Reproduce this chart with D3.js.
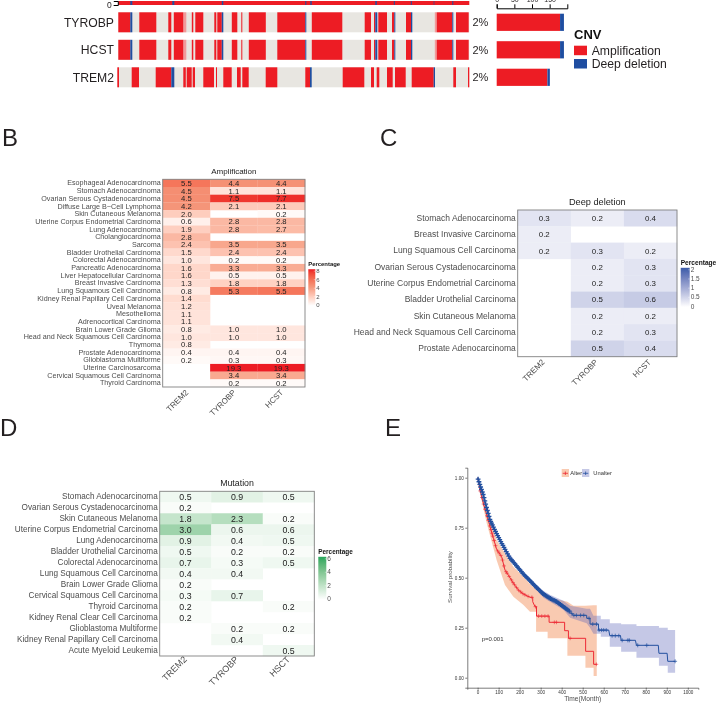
<!DOCTYPE html>
<html>
<head>
<meta charset="utf-8">
<script src="https://cdn.jsdelivr.net/npm/d3@7"></script>
<style>
  body { margin: 0; background: #fff; }
  svg { display: block; filter: blur(0.3px); }
  text { font-family: "Liberation Sans", Arial, sans-serif; }
</style>
</head>
<body>
<div id="wrapper"></div>
<script>
// A: oncoprint, [first sample, last sample] runs
const genes = ["TYROBP", "HCST", "TREM2"];
const genePct = ["2%", "2%", "2%"];
const topAmp = [[0, 351]];
const topDel = [[12, 14], [54, 56], [103.5, 105], [187, 188], [192, 193.4], [257, 258.5], [275.5, 276.5], [292.5, 293.5], [315.4, 316], [334, 335]];
const tyrobpAmp = [[0, 12], [21, 38], [50, 53], [55.5, 65], [73.5, 75], [77, 85], [96, 98], [99, 103.5], [113.5, 119], [123, 124], [130.5, 147.5], [159, 187], [193.5, 224], [246.4, 252.7], [255.7, 257], [260, 268.7], [273.7, 276], [287.7, 292.7], [318.4, 334], [337.7, 350.4]];
const tyrobpDel = [[12, 14], [103.5, 105], [187, 188], [257, 259], [276, 277], [292.7, 294], [334, 335]];
const tyrobpPale = [[65, 68], [316.5, 318.4]];
const trem2Amp = [[-1, 0.7], [13.4, 20.7], [37.4, 53], [65, 67.5], [68.4, 73.4], [74.4, 76.7], [85, 95.7], [97.7, 98.7], [105, 113.4], [118.7, 122.4], [124, 130.4], [147.4, 159], [187, 191.7], [224.4, 246], [252.7, 255.7], [258.4, 261], [268.7, 274.4], [276.7, 287.4], [293.4, 315.4], [335, 337.7], [349.7, 351]];
const trem2Del = [[53, 56], [191.7, 193.4], [315.4, 316.7]];
const barTicks = [0, 50, 100, 150];
const barAmp = [180, 180, 144];
const barDel = [11, 11, 7];

// B: amplification
const ampCancers = ["Esophageal Adenocarcinoma", "Stomach Adenocarcinoma", "Ovarian Serous Cystadenocarcinoma", "Diffuse Large B\u2212Cell Lymphoma", "Skin Cutaneous Melanoma", "Uterine Corpus Endometrial Carcinoma", "Lung Adenocarcinoma", "Cholangiocarcinoma", "Sarcoma", "Bladder Urothelial Carcinoma", "Colorectal Adenocarcinoma", "Pancreatic Adenocarcinoma", "Liver Hepatocellular Carcinoma", "Breast Invasive Carcinoma", "Lung Squamous Cell Carcinoma", "Kidney Renal Papillary Cell Carcinoma", "Uveal Melanoma", "Mesothelioma", "Adrenocortical Carcinoma", "Brain Lower Grade Glioma", "Head and Neck Squamous Cell Carcinoma", "Thymoma", "Prostate Adenocarcinoma", "Glioblastoma Multiforme", "Uterine Carcinosarcoma", "Cervical Squamous Cell Carcinoma", "Thyroid Carcinoma"];
const ampTrem2 = [5.5, 4.5, 4.5, 4.2, 2.0, 0.6, 1.9, 2.8, 2.4, 1.5, 1.0, 1.6, 1.6, 1.3, 0.8, 1.4, 1.2, 1.1, 1.1, 0.8, 1.0, 0.8, 0.4, 0.2, null, null, null];
const ampTyrobp = [4.4, 1.1, 7.5, 2.1, null, 2.8, 2.8, null, 3.5, 2.4, 0.2, 3.3, 0.5, 1.8, 5.3, null, null, null, null, 1.0, 1.0, null, 0.4, 0.3, 19.3, 3.4, 0.2];
const ampHcst = [4.4, 1.1, 7.7, 2.1, 0.2, 2.8, 2.7, null, 3.5, 2.4, 0.2, 3.3, 0.5, 1.8, 5.5, null, null, null, null, 1.0, 1.0, null, 0.4, 0.3, 19.3, 3.4, 0.2];
const ampTicks = [0, 2, 4, 6, 8];

// C: deep deletion
const delCancers = ["Stomach Adenocarcinoma", "Breast Invasive Carcinoma", "Lung Squamous Cell Carcinoma", "Ovarian Serous Cystadenocarcinoma", "Uterine Corpus Endometrial Carcinoma", "Bladder Urothelial Carcinoma", "Skin Cutaneous Melanoma", "Head and Neck Squamous Cell Carcinoma", "Prostate Adenocarcinoma"];
const delTrem2 = [0.3, 0.2, 0.2, null, null, null, null, null, null];
const delTyrobp = [0.2, null, 0.3, 0.2, 0.2, 0.5, 0.2, 0.2, 0.5];
const delHcst = [0.4, null, 0.2, 0.3, 0.3, 0.6, 0.2, 0.3, 0.4];
const delTicks = [0, 0.5, 1, 1.5, 2];

// D: mutation
const mutCancers = ["Stomach Adenocarcinoma", "Ovarian Serous Cystadenocarcinoma", "Skin Cutaneous Melanoma", "Uterine Corpus Endometrial Carcinoma", "Lung Adenocarcinoma", "Bladder Urothelial Carcinoma", "Colorectal Adenocarcinoma", "Lung Squamous Cell Carcinoma", "Brain Lower Grade Glioma", "Cervical Squamous Cell Carcinoma", "Thyroid Carcinoma", "Kidney Renal Clear Cell Carcinoma", "Glioblastoma Multiforme", "Kidney Renal Papillary Cell Carcinoma", "Acute Myeloid Leukemia"];
const mutTrem2 = [0.5, 0.2, 1.8, 3.0, 0.9, 0.5, 0.7, 0.4, 0.2, 0.3, 0.2, 0.2, null, null, null];
const mutTyrobp = [0.9, null, 2.3, 0.6, 0.4, 0.2, 0.3, 0.4, null, 0.7, null, null, 0.2, 0.4, null];
const mutHcst = [0.5, null, 0.2, 0.6, 0.5, 0.2, 0.5, null, null, null, 0.2, null, 0.2, null, 0.5];
const mutTicks = [0, 2, 4, 6];

// E: survival, traced vertices (a repeated time is a drop)
const alterTime = [0, 11, 27, 43, 59, 75, 90, 114, 130, 146, 170, 194, 218, 249, 262, 262, 273, 280, 280, 340, 340, 414, 414, 432, 432, 514, 514, 552, 552, 567];
const alterSurv = [1, 0.938, 0.872, 0.813, 0.755, 0.697, 0.642, 0.605, 0.538, 0.513, 0.472, 0.438, 0.418, 0.402, 0.402, 0.38, 0.355, 0.355, 0.308, 0.308, 0.277, 0.277, 0.235, 0.235, 0.197, 0.197, 0.132, 0.132, 0.067, 0.067];
const alterCiTime = [0, 11, 43, 75, 90, 130, 170, 218, 249, 278, 278, 333, 333, 376, 427, 427, 456, 513, 513, 552, 552, 567];
const alterCiUp = [1, 0.955, 0.84, 0.747, 0.688, 0.622, 0.555, 0.505, 0.468, 0.442, 0.442, 0.405, 0.405, 0.392, 0.38, 0.38, 0.36, 0.36, 0.36, 0.362, 0.362, 0.362];
const alterCiLo = [1, 0.922, 0.772, 0.647, 0.588, 0.463, 0.405, 0.363, 0.33, 0.33, 0.23, 0.23, 0.197, 0.197, 0.197, 0.11, 0.11, 0.11, 0.05, 0.05, 0.008, 0.008];
const alterCensor = [12, 20, 28, 35, 44, 50, 58, 63, 68, 72, 78, 85, 95, 102, 110, 118, 125, 135, 140, 150, 160, 168, 175, 185, 195, 205, 215, 225, 240, 258, 275, 290, 305, 320, 335, 365, 375, 440, 565];
const unalterTime = [0, 11, 27, 43, 59, 83, 106, 130, 154, 186, 218, 249, 281, 313, 344, 376, 408, 440, 456, 519, 519, 535, 535, 575, 575, 624, 629, 680, 683, 751, 756, 860, 863, 902, 905, 940];
const unalterSurv = [1, 0.963, 0.913, 0.847, 0.788, 0.735, 0.688, 0.642, 0.597, 0.558, 0.518, 0.485, 0.45, 0.418, 0.397, 0.38, 0.355, 0.33, 0.312, 0.312, 0.297, 0.297, 0.268, 0.268, 0.238, 0.238, 0.21, 0.21, 0.187, 0.187, 0.162, 0.162, 0.122, 0.122, 0.082, 0.082];
const unalterCiTime = [0, 59, 130, 218, 281, 313, 344, 408, 440, 519, 535, 551, 586, 586, 629, 629, 683, 683, 756, 756, 863, 863, 905, 905, 940];
const unalterCiUp = [1, 0.795, 0.65, 0.527, 0.462, 0.435, 0.415, 0.385, 0.36, 0.345, 0.345, 0.31, 0.31, 0.292, 0.292, 0.272, 0.272, 0.267, 0.267, 0.258, 0.258, 0.25, 0.25, 0.238, 0.238];
const unalterCiLo = [1, 0.78, 0.635, 0.51, 0.44, 0.4, 0.38, 0.34, 0.3, 0.272, 0.25, 0.22, 0.22, 0.205, 0.205, 0.155, 0.155, 0.13, 0.13, 0.1, 0.1, 0.06, 0.06, 0.025, 0.025];
const unalterCensor = [2, 6, 10, 14, 18, 22, 26, 30, 34, 38, 42, 46, 50, 54, 58, 62, 66, 70, 75, 80, 85, 90, 95, 100, 105, 110, 115, 120, 125, 130, 136, 142, 148, 154, 160, 166, 172, 178, 184, 190, 196, 202, 208, 214, 220, 226, 232, 238, 244, 250, 256, 262, 268, 274, 280, 286, 292, 298, 304, 310, 316, 322, 328, 334, 340, 346, 352, 358, 364, 370, 376, 382, 388, 394, 400, 406, 412, 418, 424, 430, 436];
const unalterCensorTail = [448, 458, 470, 490, 505, 530, 548, 566, 578, 590, 600, 612, 640, 655, 672, 688, 715, 722, 762, 805, 940];

const red = "#ed1c24", blue = "#1f4ea1";

const svg = d3.select("#wrapper")
  .append("svg")
    .attr("width", 719)
    .attr("height", 703);

// panel letters
[["B", 2, 146], ["C", 380, 146], ["D", 0, 436], ["E", 385, 436]].forEach(function(d) {
  svg.append("text").attr("x", d[1]).attr("y", d[2])
    .attr("font-size", 24).attr("fill", "#231f20").text(d[0]);
});

// ---- A: oncoprint ----
const sx = d3.scaleLinear().domain([0, 351]).range([118.3, 469.3]);
const gy = d3.scaleBand().domain(genes).range([12.3, 87.3]).paddingInner(0.2727);

function runs(list, y, h, color) {
  svg.append("g").selectAll("rect").data(list).join("rect")
    .attr("x", function(d) { return sx(d[0]); })
    .attr("width", function(d) { return sx(d[1]) - sx(d[0]); })
    .attr("y", y).attr("height", h).attr("fill", color);
}

genes.forEach(function(g, i) {
  const y = gy(g), h = gy.bandwidth();
  runs([[0, 351]], y, h, "#e8e6e1");
  if (g == "TREM2") {
    runs(trem2Amp, y, h, red);
    runs(trem2Del, y, h, blue);
  } else {
    runs(tyrobpPale, y, h, "#f29a9a");
    runs(tyrobpAmp, y, h, red);
    runs(tyrobpDel, y, h, blue);
  }
  svg.append("text").attr("x", 114).attr("y", y + h / 2 + 4.4)
    .attr("text-anchor", "end").attr("font-size", 12.2).attr("fill", "#231f20").text(g);
  svg.append("text").attr("x", 472.5).attr("y", y + h / 2 + 3.8)
    .attr("font-size", 11).attr("fill", "#231f20").text(genePct[i]);
});

// top summary bar
runs(topAmp, 1, 4, red);
runs(topDel, 1, 4, blue);
const topY = d3.scaleLinear().domain([0, 1]).range([5, 1]);
const topAxis = svg.append("g").attr("transform", "translate(117.8,0)")
  .call(d3.axisLeft(topY).tickValues([0]).tickSize(4).tickPadding(2).tickFormat(d3.format("d")));
topAxis.selectAll("text").attr("font-size", 8.5).attr("fill", "#231f20");

// bars on the right
const bx = d3.scaleLinear().domain([0, 150]).range([496.7, 549.5]);
genes.forEach(function(g, i) {
  const y = gy(g) + 1.4, h = gy.bandwidth() - 2.8;
  svg.append("rect").attr("x", bx(0)).attr("y", y).attr("height", h)
    .attr("width", bx(barAmp[i]) - bx(0)).attr("fill", red);
  svg.append("rect").attr("x", bx(barAmp[i])).attr("y", y).attr("height", h)
    .attr("width", bx(barDel[i]) - bx(0)).attr("fill", blue);
});
const barAxis = svg.append("g").attr("transform", "translate(0,8.3)")
  .call(d3.axisTop(bx.copy().domain([0, 200]).range([496.7, 567.3])).tickValues(barTicks).tickSize(4).tickPadding(2.3));
barAxis.selectAll("text").attr("font-size", 7).attr("fill", "#231f20");

// CNV legend
svg.append("text").attr("x", 574).attr("y", 38.5).attr("font-size", 13)
  .attr("font-weight", "bold").attr("fill", "#111").text("CNV");
[["Amplification", red, 45.7], ["Deep deletion", blue, 59]].forEach(function(d) {
  svg.append("rect").attr("x", 574).attr("y", d[2]).attr("width", 13).attr("height", 9.5).attr("fill", d[1]);
  svg.append("text").attr("x", 591.7).attr("y", d[2] + 9).attr("font-size", 12.2)
    .attr("fill", "#231f20").text(d[0]);
});

// ---- heatmaps ----
function heatmap(o) {
  const x = d3.scaleBand().domain(o.cols.map(function(c, i) { return i; })).range([o.left, o.right]);
  const y = d3.scaleBand().domain(o.rows).range([o.top, o.bottom]);
  const color = d3.scaleLinear().domain(o.stops).range(o.colors).interpolate(d3.interpolateLab).clamp(true);

  o.series.forEach(function(vals, c) {
    const col = svg.append("g");
    const cells = o.rows.map(function(r, i) { return {row: r, v: vals[i]}; }).filter(function(d) { return d.v != null; });
    col.selectAll("rect").data(cells).join("rect")
      .attr("x", x(c)).attr("y", function(d) { return y(d.row); })
      .attr("width", x.bandwidth() + 0.2).attr("height", y.bandwidth() + 0.2)
      .attr("fill", function(d) { return color(d.v); });
    col.selectAll("text").data(cells).join("text")
      .attr("x", x(c) + x.bandwidth() / 2)
      .attr("y", function(d) { return y(d.row) + y.bandwidth() / 2 + o.valueSize * 0.36; })
      .attr("text-anchor", "middle").attr("font-size", o.valueSize).attr("fill", "#222")
      .text(function(d) { return d.v.toFixed(1); });
  });

  // frame
  svg.append("rect").attr("x", o.left).attr("y", o.top)
    .attr("width", o.right - o.left).attr("height", o.bottom - o.top)
    .attr("fill", "none").attr("stroke", "#808080").attr("stroke-width", 0.9);

  svg.append("text").attr("x", (o.left + o.right) / 2).attr("y", o.top - 5.5)
    .attr("text-anchor", "middle").attr("font-size", o.titleSize).attr("fill", "#222").text(o.title);

  // row labels
  const yAxis = svg.append("g").attr("transform", "translate(" + o.left + ",0)")
    .call(d3.axisLeft(y).tickSize(0).tickPadding(2));
  yAxis.select(".domain").remove();
  yAxis.selectAll("text").attr("font-size", o.labelSize).attr("fill", "#4d4d4d");

  // column labels
  const xAxis = svg.append("g").attr("transform", "translate(0," + o.bottom + ")")
    .call(d3.axisBottom(x).tickSize(0).tickFormat(function(i) { return o.cols[i]; }));
  xAxis.select(".domain").remove();
  xAxis.selectAll("text")
    .attr("font-size", o.colSize).attr("fill", "#4d4d4d")
    .attr("text-anchor", "end").attr("dy", null).attr("y", 0)
    .attr("transform", "translate(" + o.colShift[0] + "," + o.colShift[1] + ") rotate(-45)");

  // colour legend
  const ly = d3.scaleLinear().domain(d3.extent(o.ticks)).range([o.legBottom, o.legTop]);
  const grad = svg.append("defs").append("linearGradient").attr("id", "grad" + o.title.charAt(0))
    .attr("x1", 0).attr("x2", 0).attr("y1", 1).attr("y2", 0);
  d3.range(0, 1.01, 0.1).forEach(function(t) {
    grad.append("stop").attr("offset", t).attr("stop-color", color(ly.domain()[1] * t));
  });
  const top = o.legTop - 1.5;
  svg.append("rect").attr("x", o.legX).attr("y", top).attr("width", o.legW)
    .attr("height", o.legBottom + 1 - top).attr("fill", "url(#grad" + o.title.charAt(0) + ")");
  svg.append("text").attr("x", o.legX).attr("y", top - 2.8).attr("font-size", o.legTitle)
    .attr("font-weight", "bold").attr("fill", "#111").text("Percentage");
  const lAxis = svg.append("g").attr("transform", "translate(" + (o.legX + o.legW) + ",0)")
    .call(d3.axisRight(ly).tickValues(o.ticks).tickSize(-1.5).tickPadding(1).tickFormat(d3.format("")));
  lAxis.select(".domain").remove();
  lAxis.selectAll("line").attr("stroke", "#fff").attr("stroke-width", 0.4);
  lAxis.selectAll("text").attr("font-size", o.legSize).attr("fill", "#4d4d4d");
}

heatmap({
  title: "Amplification", titleSize: 8,
  rows: ampCancers, cols: ["TREM2", "TYROBP", "HCST"], series: [ampTrem2, ampTyrobp, ampHcst],
  left: 162.7, right: 305, top: 179.3, bottom: 387,
  labelSize: 7.2, valueSize: 7.7, colSize: 8, colShift: [2.5, 6],
  stops: [0, 4, 8], colors: ["#ffffff", "#f59a7e", red],
  ticks: ampTicks, legX: 308.3, legW: 7, legTop: 270.7, legBottom: 304.7, legTitle: 5.9, legSize: 6
});
heatmap({
  title: "Deep deletion", titleSize: 9.2,
  rows: delCancers, cols: ["TREM2", "TYROBP", "HCST"], series: [delTrem2, delTyrobp, delHcst],
  left: 517.7, right: 677, top: 210, bottom: 356.7,
  labelSize: 8.5, valueSize: 7.9, colSize: 8, colShift: [1, 6],
  stops: [0, 2], colors: ["#ffffff", "#3a5ba8"],
  ticks: delTicks, legX: 680.7, legW: 9, legTop: 269.3, legBottom: 306, legTitle: 6.6, legSize: 6.5
});
heatmap({
  title: "Mutation", titleSize: 8.8,
  rows: mutCancers, cols: ["TREM2", "TYROBP", "HSCT"], series: [mutTrem2, mutTyrobp, mutHcst],
  left: 159.7, right: 314.3, top: 491.3, bottom: 656,
  labelSize: 8.2, valueSize: 8.8, colSize: 9, colShift: [2, 4],
  stops: [0, 6], colors: ["#ffffff", "#26a65b"],
  ticks: mutTicks, legX: 318.3, legW: 8, legTop: 558.3, legBottom: 598.7, legTitle: 6.4, legSize: 6.5
});

// ---- E: survival ----
const tx = d3.scaleLinear().domain([0, 1000]).range([477.7, 687.7]);
const py = d3.scaleLinear().domain([0, 1]).range([677.7, 477.7]);

function band(times, up, lo, color, op) {
  svg.append("path").datum(times)
    .attr("fill", color).attr("fill-opacity", op)
    .attr("d", d3.area()
      .x(function(d) { return tx(d); })
      .y0(function(d, i) { return py(lo[i]); })
      .y1(function(d, i) { return py(up[i]); }));
}
function curve(times, surv, color, w) {
  svg.append("path").datum(times)
    .attr("fill", "none").attr("stroke", color).attr("stroke-width", w)
    .attr("d", d3.line()
      .x(function(d) { return tx(d); })
      .y(function(d, i) { return py(surv[i]); }));
}
function marks(times, surv, censor, color, size, w) {
  const at = d3.scaleLinear().domain(times).range(surv);
  svg.append("g").selectAll("path").data(censor).join("path")
    .attr("fill", "none").attr("stroke", color).attr("stroke-width", w)
    .attr("transform", function(d) { return "translate(" + tx(d) + "," + py(at(d)) + ")"; })
    .attr("d", "M-" + size + ",0H" + size + "M0,-" + size + "V" + size);
}
band(alterCiTime, alterCiUp, alterCiLo, "#f07a3c", 0.4);
band(unalterCiTime, unalterCiUp, unalterCiLo, "#5a62b8", 0.35);
curve(alterTime, alterSurv, "#ed2a35", 1);
marks(alterTime, alterSurv, alterCensor, "#ed2a35", 1.9, 0.6);
curve(unalterTime, unalterSurv, "#23509f", 1);
marks(unalterTime, unalterSurv, unalterCensor, "#23509f", 2.4, 1.3);
marks(unalterTime, unalterSurv, unalterCensorTail, "#23509f", 2, 0.7);

const ex = svg.append("g").attr("transform", "translate(0,687.7)")
  .call(d3.axisBottom(tx.copy().domain([-49, 1050]).range([467.3, 698.3])).tickValues(d3.range(0, 1001, 100)).tickSize(2).tickPadding(1.5).tickFormat(d3.format("d")));
const ey = svg.append("g").attr("transform", "translate(467.3,0)")
  .call(d3.axisLeft(py.copy().domain([-0.05, 1.05]).range([687.7, 467.7])).tickValues([0, 0.25, 0.5, 0.75, 1]).tickSize(2).tickPadding(1.5).tickFormat(d3.format(".2f")));
[ex, ey].forEach(function(a) {
  a.selectAll("text").attr("font-size", 4.6).attr("fill", "#333");
  a.selectAll("line, path").attr("stroke", "#444").attr("stroke-width", 0.7);
});

svg.append("text").attr("x", 582.7).attr("y", 701).attr("text-anchor", "middle")
  .attr("font-size", 6.6).attr("fill", "#4d4d4d").text("Time(Month)");
svg.append("text").attr("transform", "translate(451.5,577) rotate(-90)").attr("text-anchor", "middle")
  .attr("font-size", 6.2).attr("fill", "#4d4d4d").text("Survival probability");
svg.append("text").attr("x", 481.7).attr("y", 640.5)
  .attr("font-size", 6).attr("fill", "#333").text("p=0.001");

// survival legend
[["Alter", 561.7, 7.3, "#f07a3c", 0.4, "#ed2a35", 570.3], ["Unalter", 582, 7.3, "#5a62b8", 0.35, "#23509f", 593.3]].forEach(function(d) {
  svg.append("rect").attr("x", d[1]).attr("y", 469).attr("width", d[2]).attr("height", 8)
    .attr("fill", d[3]).attr("fill-opacity", d[4]);
  svg.append("path").attr("d", "M" + (d[1] + 1) + ",473.3H" + (d[1] + d[2] - 1) + "M" + (d[1] + d[2] / 2) + ",471.5V475")
    .attr("stroke", d[5]).attr("stroke-width", 0.8);
  svg.append("text").attr("x", d[6]).attr("y", 475.3).attr("font-size", 5.8).attr("fill", "#333").text(d[0]);
});
</script>
</body>
</html>
